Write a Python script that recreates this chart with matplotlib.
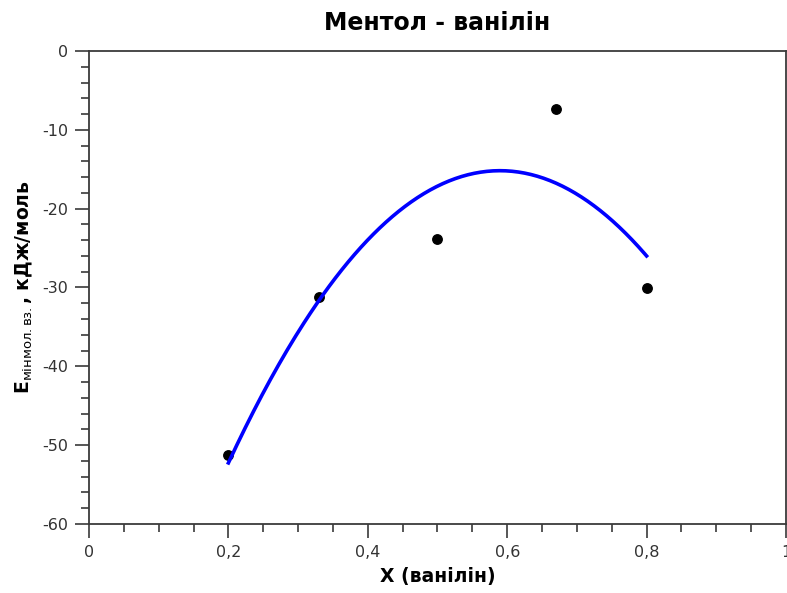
import numpy as np
import matplotlib
matplotlib.use('Agg')
import matplotlib.pyplot as plt
from matplotlib.ticker import MultipleLocator, FuncFormatter

plt.rcParams['font.family'] = ['DejaVu Sans']
plt.rcParams['mathtext.fontset'] = 'dejavusans'
plt.rcParams['axes.unicode_minus'] = False

# Menthol - vanillin: mole fraction of vanillin vs. interaction energy
x_vanillin = [0.2, 0.33, 0.5, 0.67, 0.8]
e_interaction = [-51.3, -31.2, -23.8, -7.4, -30.1]

# second-order least-squares trend through the measured points
coef = np.polyfit(x_vanillin, e_interaction, 2)
x_fit = np.linspace(min(x_vanillin), max(x_vanillin), 200)
e_fit = np.polyval(coef, x_fit)

FRAME = '#3a3a3a'

fig = plt.figure(figsize=(7.87, 5.93), dpi=100)
ax = fig.add_axes([0.1131, 0.1164, 0.8856, 0.7976])

ax.plot(x_vanillin, e_interaction, 'o', color='black', markersize=6.8, zorder=2)
ax.plot(x_fit, e_fit, color='#0000ff', linewidth=2.6, zorder=3)

ax.set_xlim(0, 1)
ax.set_ylim(-60, 0)
ax.xaxis.set_major_locator(MultipleLocator(0.2))
ax.xaxis.set_minor_locator(MultipleLocator(0.05))
ax.yaxis.set_major_locator(MultipleLocator(10))
ax.yaxis.set_minor_locator(MultipleLocator(2))

comma = FuncFormatter(lambda v, pos: f'{v:g}'.replace('.', ','))
ax.xaxis.set_major_formatter(comma)
ax.yaxis.set_major_formatter(comma)

for s in ax.spines.values():
    s.set_color(FRAME)
    s.set_linewidth(1.3)
ax.tick_params(which='major', direction='out', length=10, width=1.2,
               color=FRAME, labelsize=11.5, labelcolor='#333333', pad=5)
ax.tick_params(which='minor', direction='out', length=5.5, width=1.2, color=FRAME)
ax.tick_params(top=False, right=False, which='both')

ax.set_title('Ментол - ванілін', fontsize=17, fontweight='bold', pad=15)
ax.set_xlabel('X (ванілін)', fontsize=13.5, fontweight='bold', labelpad=5)
ax.set_ylabel(r'$\mathbf{E}_{\mathrm{мінмол.вз.}}$, кДж/моль',
              fontsize=13.5, fontweight='bold', labelpad=5)

fig.savefig('out.png', dpi=100)
